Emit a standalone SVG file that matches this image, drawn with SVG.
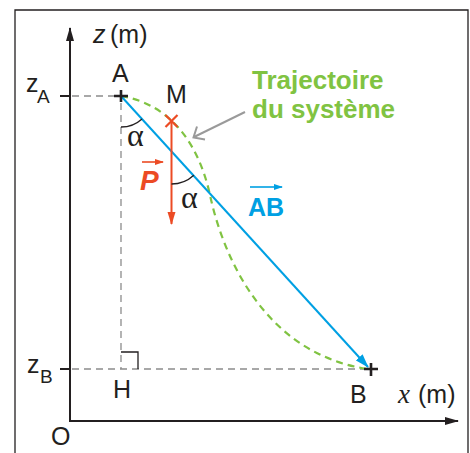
<svg xmlns="http://www.w3.org/2000/svg" width="470" height="453" viewBox="0 0 470 453">
<style>
.lbl{font-family:"Liberation Sans",Arial,sans-serif;font-size:25px;fill:#231f20}
.ser{font-family:"Liberation Serif","Times New Roman",serif;fill:#231f20}
.dash{stroke:#8c8c8c;stroke-width:1.3;stroke-dasharray:7 5;fill:none}
.axis{stroke:#231f20;stroke-width:2;fill:none}
</style>
<defs>
<marker id="ah" markerWidth="14" markerHeight="10" refX="13" refY="5" orient="auto" markerUnits="userSpaceOnUse"><path d="M0,1 L14,5 L0,9 Z" fill="#231f20"/></marker>
<marker id="ahRed" markerWidth="13" markerHeight="9" refX="12" refY="4.5" orient="auto" markerUnits="userSpaceOnUse"><path d="M0,0.5 L13,4.5 L0,8.5 Z" fill="#ec4b24"/></marker>
<marker id="ahBlue" markerWidth="14" markerHeight="10" refX="13" refY="5" orient="auto" markerUnits="userSpaceOnUse"><path d="M0,0.5 L14,5 L0,9.5 Z" fill="#00a0e3"/></marker>
<marker id="ahSmallRed" markerWidth="9" markerHeight="7" refX="8" refY="3.5" orient="auto" markerUnits="userSpaceOnUse"><path d="M0,0.5 L9,3.5 L0,6.5 Z" fill="#ec4b24"/></marker>
<marker id="ahSmallBlue" markerWidth="9" markerHeight="7" refX="8" refY="3.5" orient="auto" markerUnits="userSpaceOnUse"><path d="M0,0.5 L9,3.5 L0,6.5 Z" fill="#00a0e3"/></marker>
</defs>
<rect width="470" height="453" fill="#ffffff"/>
<path d="M15,453 V10 H468 V453" fill="none" stroke="#231f20" stroke-width="1.3"/>

<g id="axes">
<line class="axis" x1="70" y1="422" x2="70" y2="28" marker-end="url(#ah)"/>
<line class="axis" x1="69" y1="421" x2="458" y2="421" marker-end="url(#ah)"/>
<line class="axis" x1="60" y1="96" x2="70" y2="96"/>
<line class="axis" x1="60" y1="369" x2="70" y2="369"/>
<text class="lbl" x="93" y="43"><tspan font-style="italic">z</tspan><tspan x="110">(m)</tspan></text>
<text class="lbl" x="51" y="445">O</text>
<text class="lbl" x="26" y="92">z<tspan x="37" y="103" font-size="19">A</tspan></text>
<text class="lbl" x="27" y="373">z<tspan x="40" y="383" font-size="19">B</tspan></text>
<text class="ser" x="398" y="403" font-size="27" font-style="italic">x</text>
<text class="lbl" x="418" y="403">(m)</text>
</g>

<g id="construction">
<line class="dash" x1="72" y1="96" x2="116" y2="96"/>
<line class="dash" x1="72" y1="369" x2="366" y2="369"/>
<line class="dash" x1="121" y1="103" x2="121" y2="369"/>
<path d="M121,352 H138 V369" fill="none" stroke="#231f20" stroke-width="1.3"/>
<text class="lbl" x="113" y="398">H</text>
</g>

<g id="connectors">
<path d="M121,96 C175,105 200,150 210,195 C225,265 270,355 368,369" fill="none" stroke="#80c342" stroke-width="2.2" stroke-dasharray="7 5"/>
<line x1="121" y1="96" x2="368" y2="367" stroke="#00a0e3" stroke-width="2" marker-end="url(#ahBlue)"/>
<line x1="245" y1="112" x2="194" y2="137" stroke="#9a9a9a" stroke-width="2"/>
<polyline points="197,126.5 193.5,137.5 205,139.5" fill="none" stroke="#9a9a9a" stroke-width="2"/>
</g>

<g id="A">
<path d="M114,96 H128 M121,90 V102" stroke="#231f20" stroke-width="2.6"/>
<text class="lbl" x="112" y="82">A</text>
<path d="M121,127 A31,31 0 0 0 142,118.9" fill="none" stroke="#231f20" stroke-width="1.3"/>
<text class="ser" x="127" y="146" font-size="32">α</text>
</g>

<g id="B">
<path d="M364,369 H378 M371,363 V376" stroke="#231f20" stroke-width="2.6"/>
<text class="lbl" x="350" y="403">B</text>
</g>

<g id="M">
<line x1="171.5" y1="121" x2="171.5" y2="224" stroke="#ec4b24" stroke-width="2" marker-end="url(#ahRed)"/>
<path d="M165.5,115 L177.5,127 M177.5,115 L165.5,127" stroke="#ec4b24" stroke-width="2.2"/>
<text class="lbl" x="166" y="103">M</text>
<path d="M171.5,184 A33,33 0 0 0 193.8,175.2" fill="none" stroke="#231f20" stroke-width="1.3"/>
<text class="ser" x="181" y="208" font-size="32">α</text>
</g>

<g id="P">
<line x1="142" y1="162" x2="163" y2="162" stroke="#ec4b24" stroke-width="1.6" marker-end="url(#ahSmallRed)"/>
<text x="140" y="190" font-family="Liberation Sans,Arial,sans-serif" font-size="28" font-weight="bold" font-style="italic" fill="#ec4b24">P</text>
</g>

<g id="AB">
<line x1="250" y1="187" x2="282" y2="187" stroke="#00a0e3" stroke-width="1.6" marker-end="url(#ahSmallBlue)"/>
<text x="248" y="216" font-family="Liberation Sans,Arial,sans-serif" font-size="25" font-weight="bold" fill="#00a0e3">AB</text>
</g>

<g id="trajectoire">
<text font-family="Liberation Sans,Arial,sans-serif" font-size="26" font-weight="bold" fill="#80c342"><tspan x="252" y="89">Trajectoire</tspan><tspan x="252" y="118">du système</tspan></text>
</g>
</svg>
